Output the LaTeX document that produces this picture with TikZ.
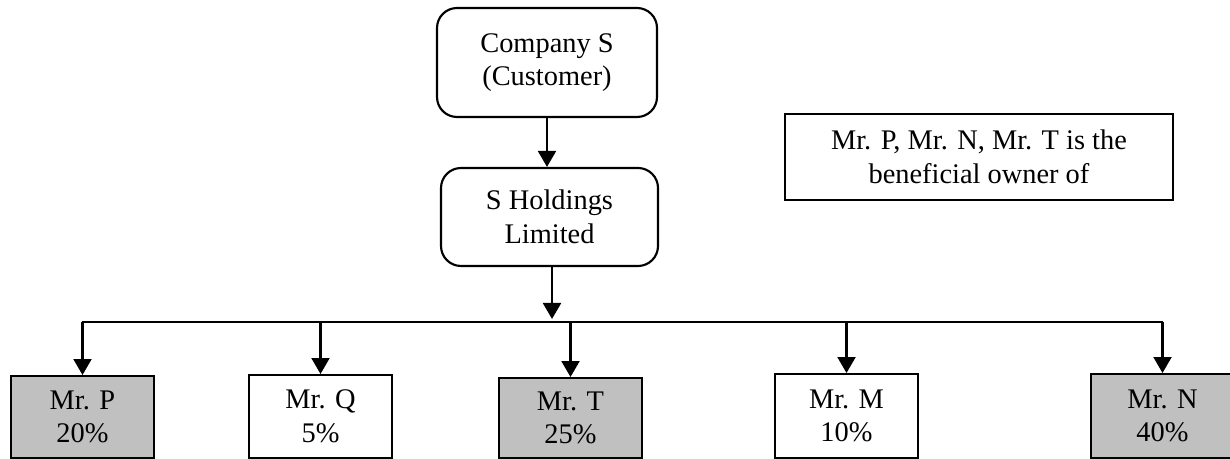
\documentclass[tikz,border=0pt]{standalone}
\usepackage{fontspec}
\setmainfont{Liberation Serif}
\usetikzlibrary{arrows.meta}
\definecolor{owner}{RGB}{192,192,192}
\tikzset{
  every node/.style={font=\fontsize{21.3}{25.2}\selectfont, align=center, inner sep=0pt},
  roundbox/.style={draw, line width=1.6pt, rounded corners=15pt},
  plainbox/.style={draw, line width=1.6pt},
  holder/.style={draw, line width=1.6pt, anchor=north, minimum width=107.25pt},
  owned/.style={holder, fill=owner},
  arr/.style={line width=1.6pt, -{Triangle[width=13.5pt,length=12pt]}},
  bus/.style={line width=1.6pt}
}
\begin{document}
\begin{tikzpicture}[x=0.75pt, y=-0.75pt]
  \useasboundingbox (0,0) rectangle (1230,459);
  \clip (0,0) rectangle (1230,459);

  % company chain
  \node[roundbox, minimum width=165pt, minimum height=81.75pt] (cs) at (547,62.5) {Company S\\(Customer)};
  \node[roundbox, minimum width=162.75pt, minimum height=73.5pt] (sh) at (549.5,217) {S Holdings\\Limited};

  % note
  \node[plainbox, minimum width=291pt, minimum height=64.5pt] (note) at (979,157) {Mr. P, Mr. N, Mr. T is the\\beneficial owner of};

  % shareholders
  \node[owned, minimum height=61.5pt] (p) at (82.5,375) {Mr. P\\20\%};
  \node[holder, minimum height=62.25pt] (q) at (320.5,374) {Mr. Q\\5\%};
  \node[owned, minimum height=60pt] (t) at (570.5,377) {Mr. T\\25\%};
  \node[holder, minimum height=63pt] (m) at (846.5,373) {Mr. M\\10\%};
  \node[owned, minimum height=63pt] (n) at (1162.5,373) {Mr. N\\40\%};

  % distribution bus
  \coordinate (busL) at (82,322);
  \coordinate (busR) at (1163,322);
  \coordinate (hub) at (552,319);

  \draw[arr] (cs.south) -- (cs.south |- sh.north);
  \draw[arr] (sh.south -| hub) -- (hub);
  \draw[bus] (busL) -- (busR);
  \foreach \h in {p,q,t,m,n}
    \draw[arr] (\h.north |- busL) -- (\h.north);
\end{tikzpicture}
\end{document}
